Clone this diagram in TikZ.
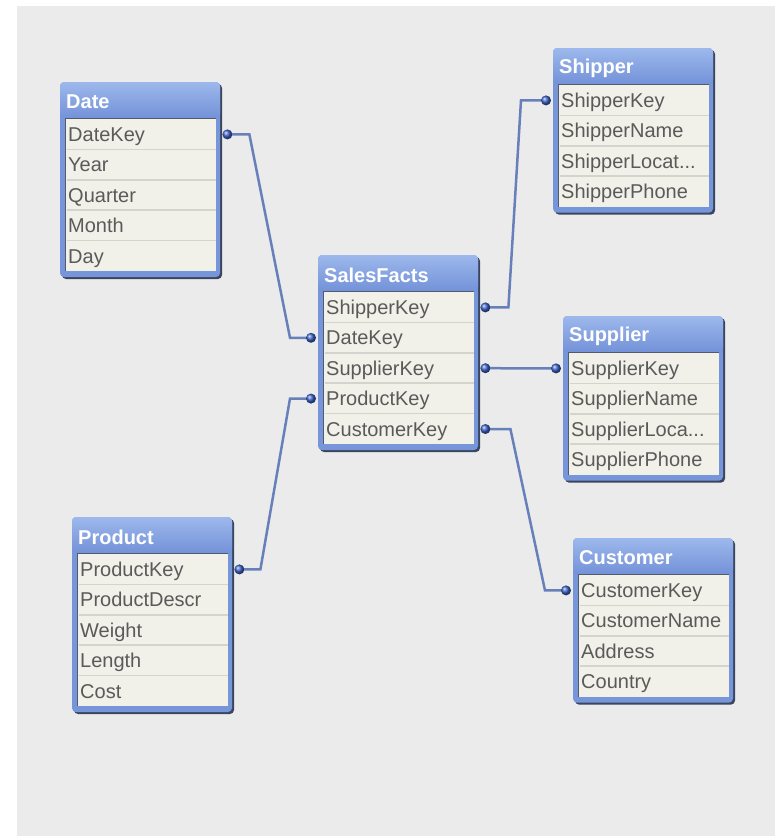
\documentclass[tikz,border=0pt]{standalone}
\usepackage{fontspec}
\setmainfont{Liberation Sans}
\definecolor{bgc}{HTML}{EBEBEB}
\definecolor{framec}{HTML}{7696D9}
\definecolor{hdtop}{HTML}{9DB8EC}
\definecolor{hdbot}{HTML}{7392D8}
\definecolor{shadowc}{HTML}{3A4560}
\definecolor{bodyc}{HTML}{F1F1E9}
\definecolor{bodyedge}{HTML}{525A6C}
\definecolor{sepc}{HTML}{D4D4CF}
\definecolor{fieldc}{HTML}{5A5A5A}
\definecolor{connc}{HTML}{6780BA}
\definecolor{dotc}{HTML}{3A60C8}
\newcommand\mydots{...}
\tikzset{
  field/.style={anchor=north west, inner xsep=3pt, inner ysep=0pt,
    text width=145pt, align=left, minimum height=30.4pt,
    text height=16.5pt, text depth=2.5pt, text=fieldc,
    font=\fontsize{20}{20}\selectfont},
  hdr/.style={anchor=west, inner sep=0pt, text=white,
    font=\bfseries\fontsize{20}{20}\selectfont},
  conn/.style={draw=connc, line width=2.5pt},
  dotball/.style={ball color=dotc}
}
\newcommand\dbtab[6]{%
  \pgfmathsetmacro\tabH{37+#4*30.4+6}
  \fill[shadowc, rounded corners=4pt] (#2+2,#3+2) rectangle ++(160,\tabH);
  \fill[framec, rounded corners=4pt] (#2,#3) rectangle ++(160,\tabH);
  \shade[top color=hdtop, bottom color=hdbot, rounded corners=4pt] (#2,#3) rectangle ++(160,36);
  \fill[bodyc] (#2+5,#3+36) rectangle (#2+156,#3+\tabH-6);
  \draw[bodyedge, line width=1.5pt] (#2+5.5,#3+\tabH-6) -- (#2+5.5,#3+36.5) -- (#2+156,#3+36.5);
  \node[hdr] (#1-h) at (#2+6,#3+20) {#5};
  \foreach \f [count=\i] in {#6} {
    \node[field] (#1-\i) at (#2+5,#3+37+\i*30.4-30.4) {\f};
  }
  \pgfmathtruncatemacro\nsep{#4-1}
  \foreach \i in {1,...,\nsep} {
    \draw[sepc, line width=1.5pt] (#2+6.5,#3+37+\i*30.4) -- (#2+156,#3+37+\i*30.4);
  }
}
\begin{document}
\begin{tikzpicture}[x=1pt,y=-1pt]
\useasboundingbox (0,0) rectangle (775,836);
\fill[white] (0,0) rectangle (775,836);
\fill[bgc] (17,6) rectangle (775,836);

\dbtab{Date}{60}{82}{5}{Date}{DateKey,Year,Quarter,Month,Day}
\dbtab{SF}{318}{255}{5}{SalesFacts}{ShipperKey,DateKey,SupplierKey,ProductKey,CustomerKey}
\dbtab{Shipper}{553}{48}{4}{Shipper}{ShipperKey,ShipperName,ShipperLocat\mydots,ShipperPhone}
\dbtab{Supplier}{563}{316}{4}{Supplier}{SupplierKey,SupplierName,SupplierLoca\mydots,SupplierPhone}
\dbtab{Customer}{573}{538}{4}{Customer}{CustomerKey,CustomerName,Address,Country}
\dbtab{Product}{72}{517}{5}{Product}{ProductKey,ProductDescr,Weight,Length,Cost}

\coordinate (Date-1-r) at ([xshift=11pt]Date-1.east);
\coordinate (Product-1-r) at ([xshift=11pt]Product-1.east);
\coordinate (SF-1-r) at ([xshift=11pt]SF-1.east);
\coordinate (SF-3-r) at ([xshift=11pt]SF-3.east);
\coordinate (SF-5-r) at ([xshift=11pt]SF-5.east);
\coordinate (SF-2-l) at ([xshift=-12pt]SF-2.west);
\coordinate (SF-4-l) at ([xshift=-12pt]SF-4.west);
\coordinate (Shipper-1-l) at ([xshift=-12pt]Shipper-1.west);
\coordinate (Supplier-1-l) at ([xshift=-12pt]Supplier-1.west);
\coordinate (Customer-1-l) at ([xshift=-12pt]Customer-1.west);

\draw[conn] (Date-1-r) -- ++(22,0) -- ([xshift=-21pt]SF-2-l) -- (SF-2-l);
\draw[conn] (Product-1-r) -- ++(21,0) -- ([xshift=-21pt]SF-4-l) -- (SF-4-l);
\draw[conn] (SF-1-r) -- ++(23,0) -- ([xshift=-25pt]Shipper-1-l) -- (Shipper-1-l);
\draw[conn] (SF-3-r) -- (Supplier-1-l);
\draw[conn] (SF-5-r) -- ++(25,0) -- ([xshift=-21pt]Customer-1-l) -- (Customer-1-l);

\foreach \c in {Date-1-r,Product-1-r,SF-1-r,SF-3-r,SF-5-r,SF-2-l,SF-4-l,Shipper-1-l,Supplier-1-l,Customer-1-l}
  \shade[dotball] (\c) circle (5pt);
\end{tikzpicture}
\end{document}
